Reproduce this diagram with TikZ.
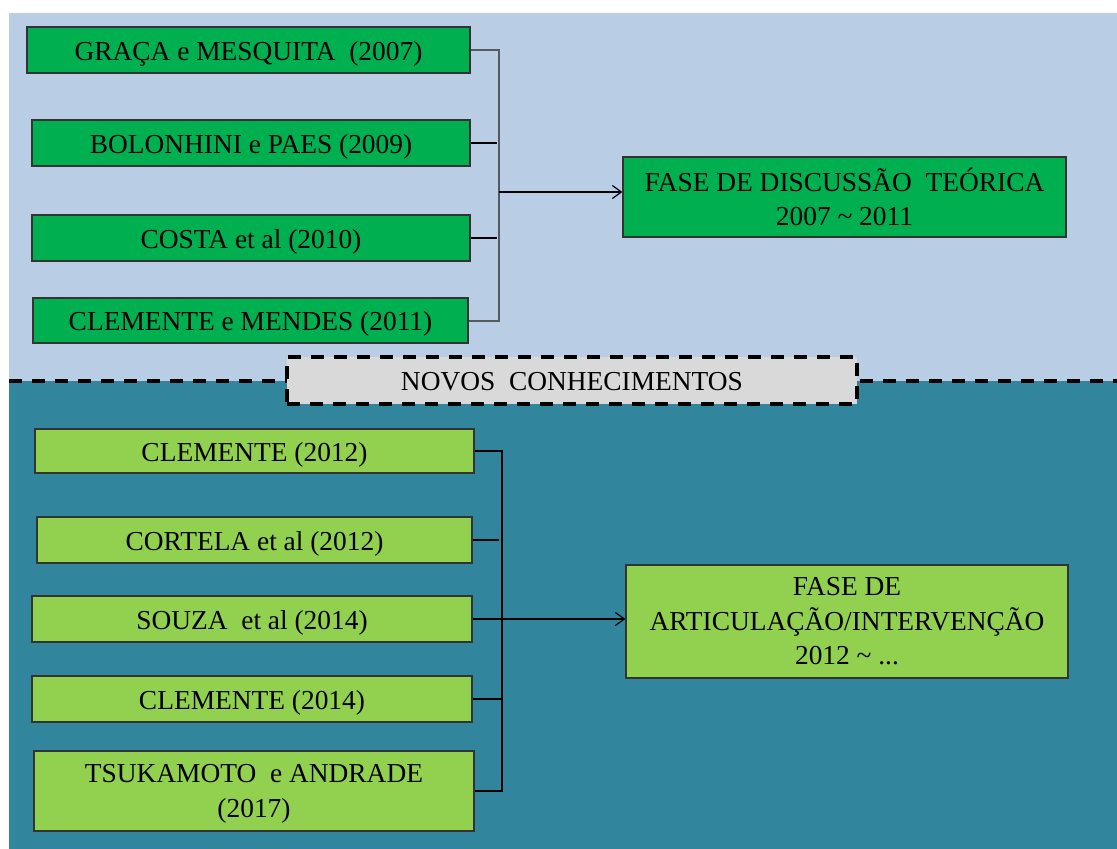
\documentclass[tikz,border=0pt]{standalone}
\usepackage{fontspec}
\setmainfont{Liberation Serif}
\usetikzlibrary{arrows.meta}

\definecolor{skyband}{HTML}{B9CDE5}
\definecolor{tealband}{HTML}{31859C}
\definecolor{phaseone}{HTML}{00B050}
\definecolor{phasetwo}{HTML}{92D050}
\definecolor{notegray}{HTML}{D9D9D9}
\definecolor{bracketgray}{HTML}{555A60}

\begin{document}
\begin{tikzpicture}[x=1pt,y=-1pt,
  every node/.style={font=\fontsize{27.4}{34.5}\selectfont, inner sep=0pt, text=black},
  refbox/.style={draw=black!80, line width=1.2pt, minimum height=46pt},
  oneline/.style={text height=20pt, text depth=0pt},
  earlybox/.style={refbox, fill=phaseone},
  laterbox/.style={refbox, fill=phasetwo},
  phasebox/.style={draw=black!80, line width=1.2pt, align=center},
  bandline/.style={line width=3.5pt, dash pattern=on 13pt off 10pt},
  thinlink/.style={line width=1.2pt, draw=black},
  graylink/.style={line width=2pt, draw=bracketgray},
  boldlink/.style={line width=2.6pt, draw=black},
  flowarrow/.style={line width=1.2pt, -{Straight Barb[length=9pt,width=13pt,line width=1.2pt]}}
]
\useasboundingbox (0,0) rectangle (1117,849);

% background bands
\fill[skyband] (9,13) rectangle (1117,381);
\fill[tealband] (9,381) rectangle (1117,849);

% first period: references
\node[earlybox, oneline, minimum width=443pt] (g1) at (248.5,50) {GRAÇA e MESQUITA\ \ (2007)};
\node[earlybox, oneline, minimum width=438pt] (g2) at (251,143) {BOLONHINI e PAES (2009)};
\node[earlybox, oneline, minimum width=438pt] (g3) at (251,238) {COSTA et al (2010)};
\node[earlybox, oneline, minimum width=435pt, minimum height=45pt] (g4) at (250.5,320.5) {CLEMENTE e MENDES (2011)};

\node[phasebox, fill=phaseone, minimum width=443pt, minimum height=80pt] (gt) at (844.5,197)
  {FASE DE DISCUSSÃO\ \ TEÓRICA\\2007 \textasciitilde{} 2011};

% first bracket
\coordinate (tbar) at (498.5,0);
\coordinate (tjoin) at (498.5,192);
\draw[graylink] (g1.east) -| (tbar |- g4.east) -- (g4.east);
\draw[thinlink] (g2.east) -- ([xshift=-1.5pt]tbar |- g2.east);
\draw[thinlink] (g3.east) -- ([xshift=-1.5pt]tbar |- g3.east);
\draw[flowarrow] (tjoin) -- (gt.west |- tjoin);

% separator
\draw[bandline] (9,381) -- (1117,381);
\node[draw=black, fill=notegray, line width=3.5pt, dash pattern=on 13pt off 10pt,
      minimum width=570pt, minimum height=47pt, oneline] (nv) at (572,380.5)
  {NOVOS\ \ CONHECIMENTOS};

% second period: references
\node[laterbox, oneline, minimum width=439pt, minimum height=44pt] (b1) at (254.5,451) {CLEMENTE (2012)};
\node[laterbox, oneline, minimum width=435pt] (b2) at (254.5,540) {CORTELA et al (2012)};
\node[laterbox, oneline, minimum width=440pt] (b3) at (252,619) {SOUZA\ \ et al (2014)};
\node[laterbox, oneline, minimum width=440pt] (b4) at (252,699) {CLEMENTE (2014)};
\node[laterbox, align=center, minimum width=440pt, minimum height=80pt] (b5) at (254,791)
  {\strut TSUKAMOTO\ \ e ANDRADE\\(2017)};

\node[phasebox, fill=phasetwo, minimum width=442pt, minimum height=113pt] (bt) at (847,621.5)
  {FASE DE\\ARTICULAÇÃO/INTERVENÇÃO\\2012 \textasciitilde{} ...};

% second bracket
\coordinate (bbar) at (502,0);
\draw[boldlink] (b1.east) -| (bbar |- b5.east) -- (b5.east);
\draw[boldlink] (b2.east) -- ([xshift=-3pt]bbar |- b2.east);
\draw[boldlink] (b3.east) -- (bbar |- b3.east);
\draw[boldlink] (b4.east) -- (bbar |- b4.east);
\draw[flowarrow] (bbar |- b3.east) -- (bt.west |- b3.east);
\end{tikzpicture}
\end{document}
